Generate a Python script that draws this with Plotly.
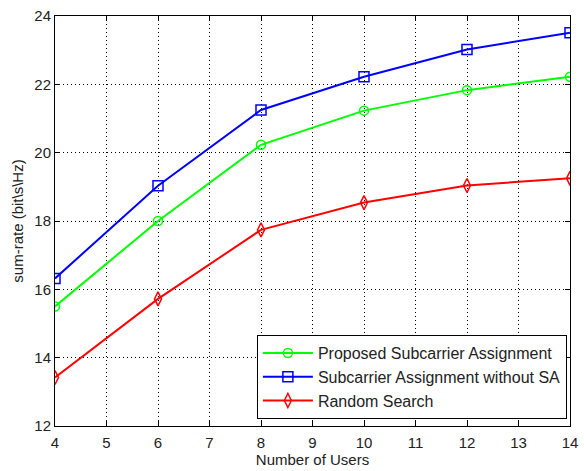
import plotly.graph_objects as go

users = [4, 6, 8, 10, 12, 14]
proposed = [15.5, 18.0, 20.23, 21.23, 21.83, 22.22]
without_sa = [16.32, 19.03, 21.25, 22.22, 23.02, 23.51]
random_search = [13.42, 15.72, 17.74, 18.54, 19.04, 19.25]

x_ticks = list(range(4, 15))
y_ticks = list(range(12, 25, 2))

font_family = "Liberation Sans, Arial, sans-serif"

fig = go.Figure()
fig.add_trace(go.Scatter(
    x=users, y=proposed, mode="lines+markers",
    name="Proposed Subcarrier Assignment",
    line=dict(color="#00ff00", width=2),
    marker=dict(symbol="circle-open", size=9, color="#00ff00", line=dict(width=1.5)),
))
fig.add_trace(go.Scatter(
    x=users, y=without_sa, mode="lines+markers",
    name="Subcarrier Assignment without SA",
    line=dict(color="#0000ff", width=2),
    marker=dict(symbol="square-open", size=10, color="#0000ff", line=dict(width=1.5)),
))
fig.add_trace(go.Scatter(
    x=users, y=random_search, mode="lines+markers",
    name="Random Search",
    line=dict(color="#ff0000", width=2),
    marker=dict(symbol="diamond-tall-open", size=10, color="#ff0000", line=dict(width=1.5)),
))

axis_common = dict(
    showgrid=True, gridcolor="black", gridwidth=1, griddash="1px,3px",
    showline=True, linecolor="black", linewidth=1, mirror="allticks",
    ticks="inside", ticklen=5, tickcolor="black",
    zeroline=False, ticklabeloverflow="allow",
    tickfont=dict(family=font_family, size=15, color="#222222"),
)

fig.update_xaxes(
    range=[4, 14], tickvals=x_ticks, ticklabelstandoff=3,
    title=dict(text="Number of Users", font=dict(family=font_family, size=15, color="#222222"), standoff=1),
    **axis_common,
)
fig.update_yaxes(
    range=[12, 24], tickvals=y_ticks,
    title=dict(text="sum-rate (bit\\s\\Hz)", font=dict(family=font_family, size=15, color="#222222"), standoff=7),
    **axis_common,
)

fig.update_layout(
    width=584, height=471,
    margin=dict(l=55, r=6, t=16, b=45),
    paper_bgcolor="white", plot_bgcolor="white",
    font=dict(family=font_family, color="#222222"),
    showlegend=True,
    legend=dict(
        x=0.392, y=0.017, xanchor="left", yanchor="bottom",
        bgcolor="white", bordercolor="black", borderwidth=1,
        font=dict(family=font_family, size=16, color="#222222"),
        tracegroupgap=0, itemwidth=50,
    ),
)

fig.write_html("out.html")
